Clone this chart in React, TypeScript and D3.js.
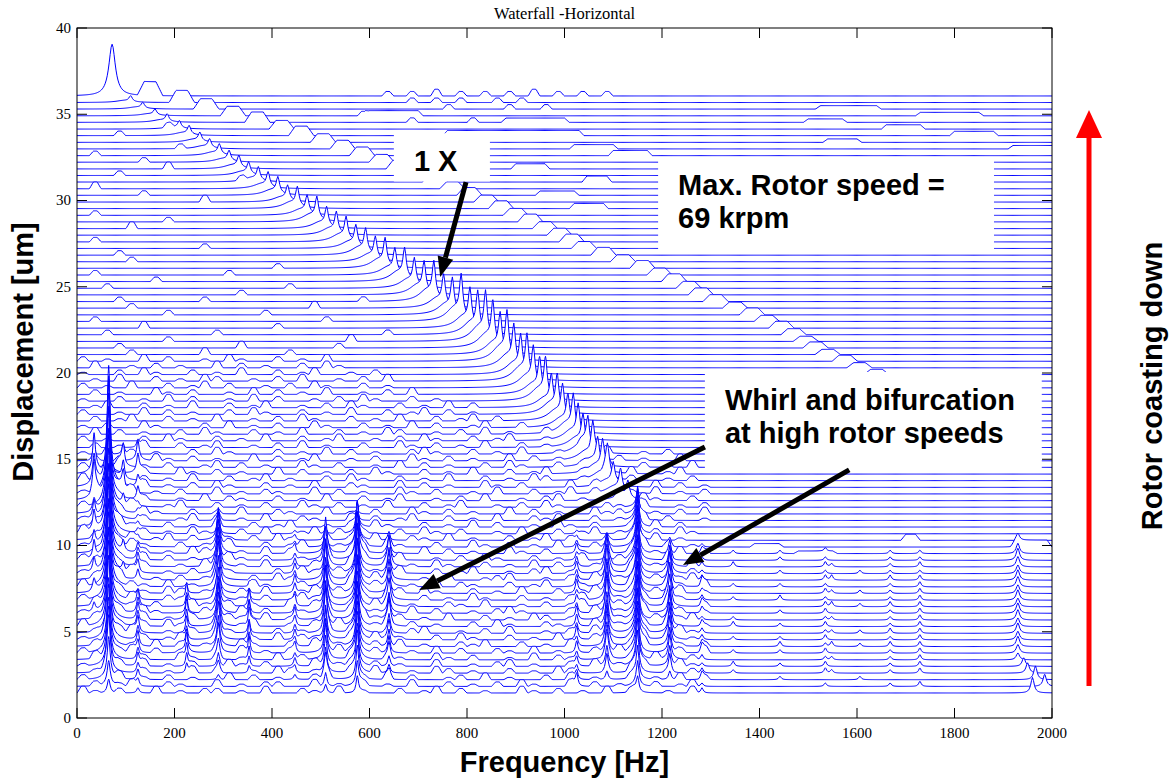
import * as d3 from "d3";

const WIDTH = 1173;
const HEIGHT = 779;

// baseline of each spectrum, front (max speed) to back (coasted down)
const traceOffsets = [
  1.45, 1.83, 2.22, 2.6, 2.99, 3.37, 3.76, 4.14, 4.53, 4.91,
  5.3, 5.68, 6.07, 6.45, 6.83, 7.22, 7.6, 7.99, 8.37, 8.76,
  9.14, 9.53, 9.91, 10.3, 10.68, 11.07, 11.45, 11.83, 12.22, 12.6,
  12.99, 13.37, 13.76, 14.14, 14.53, 14.91, 15.3, 15.68, 16.07, 16.45,
  16.83, 17.22, 17.6, 17.99, 18.37, 18.76, 19.14, 19.53, 19.91, 20.3,
  20.68, 21.07, 21.45, 21.83, 22.22, 22.6, 22.99, 23.37, 23.76, 24.14,
  24.53, 24.91, 25.3, 25.68, 26.07, 26.45, 26.83, 27.22, 27.6, 27.99,
  28.37, 28.76, 29.14, 29.53, 29.91, 30.3, 30.68, 31.07, 31.45, 31.83,
  32.22, 32.6, 32.99, 33.37, 33.76, 34.14, 34.53, 34.91, 35.3, 35.68,
  36.06,
];

// 1X (synchronous) frequency of each trace
const speedHz = [
  1150, 1150, 1150, 1150, 1150, 1150, 1150, 1150, 1150, 1150,
  1150, 1150, 1150, 1150, 1150, 1150, 1150, 1150, 1150, 1150,
  1150, 1150, 1150, 1150, 1150, 1150, 1150, 1150, 1150,
  1130, 1115, 1100, 1088, 1078, 1068, 1058, 1048, 1038, 1028,
  1018, 1007, 996, 985, 973, 961, 949, 936, 923, 910,
  896, 882, 868, 853, 838, 822, 806, 788, 770, 752,
  732, 712, 692, 672, 652, 632, 612, 592, 572, 552,
  532, 512, 492, 472, 452, 432, 412, 392, 372, 352,
  332, 312, 292, 272, 252, 230, 210, 185, 160, 135,
  110, 72,
];

const amp1x = [
  1.0, 1.5, 2.0, 2.5, 2.8, 3.0, 3.0, 3.2, 3.0, 3.2,
  3.0, 3.2, 3.0, 3.2, 3.0, 3.2, 3.0, 3.2, 3.0, 3.0,
  3.0, 2.8, 2.8, 2.6, 2.5, 2.2, 2.0, 1.5, 1.0,
  1.2, 1.5, 1.5, 1.8, 2.0, 1.8, 2.0, 2.2, 2.0, 2.2, 2.4, 2.0,
  2.2, 2.4, 2.0, 2.6, 2.2, 2.5, 2.8, 2.4, 2.6, 3.0,
  2.5, 2.8, 3.0, 2.6, 2.4, 2.8, 2.2, 2.0, 2.4, 2.0,
  1.8, 2.0, 1.6, 1.8, 1.5, 1.6, 1.4, 1.5, 1.4, 1.3, 1.5, 1.2, 1.3,
  1.0, 1.1, 1.0, 0.9, 0.8, 0.8, 0.7, 0.7, 0.6, 0.6, 0.6, 0.5, 0.5, 0.4, 0.4, 0.4,
  0,
];

// broad humps of the second ridge, traces 48..90
const HUMP_START = 48;
const hump2xHz = [
  1640, 1605, 1575, 1540, 1515, 1495, 1470, 1445, 1415, 1385,
  1350, 1310, 1280, 1255, 1225, 1195, 1160, 1120, 1080, 1040,
  1015, 990, 960, 930, 900, 870, 840, 805, 770, 735,
  700, 660, 625, 585, 545, 505, 460, 420, 370, 320,
  265, 215, 150,
];
const amp2x = [
  0.3, 0.3, 0.35, 0.3, 0.35, 0.3, 0.35, 0.4, 0.35, 0.4,
  0.35, 0.4, 0.4, 0.4, 0.45, 0.4, 0.45, 0.4, 0.45, 0.4,
  0.45, 0.4, 0.4, 0.45, 0.4, 0.45, 0.4, 0.45, 0.4, 0.45,
  0.45, 0.5, 0.45, 0.5, 0.5, 0.5, 0.55, 0.5, 0.6, 0.55,
  0.6, 0.7, 0.8,
];

// fixed-frequency lines (subsynchronous whirl and friends), amplitude per trace from the front
const amps35 = [0, 0, 0, 0, 0, 0, 0, 0, 0, 0, 0, 0, 0.5, 0, 0, 0.6, 0, 0, 0.8, 0, 1.0, 0, 0.8, 0, 1.2, 0, 1.0, 0.6, 0, 1.8, 0, 1.5, 0, 2.2, 0, 0.8];
const amps65 = [0.8, 1.5, 2.5, 3.0, 3.5, 3.5, 4.0, 4.0, 4.5, 4.5, 5.0, 5.0, 5.0, 5.5, 5.5, 5.5, 6.0, 6.0, 6.0, 6.0, 6.5, 6.5, 6.5, 6.5, 7.0, 7.0, 7.0, 7.0, 7.0, 7.0, 6.8, 6.9, 4.0, 2.0, 1.0];
const amps95 = [0, 0, 0, 0, 0, 0, 0, 0, 0, 0, 0, 0, 0, 0, 0, 0, 0, 0, 0.5, 0, 0, 0.6, 0, 0, 0, 0, 0, 0, 0.6, 0, 1.1, 0, 1.0, 0, 1.2, 0, 0.6];
const amps125 = [0.3, 0.5, 0.6, 0.6, 0.8, 0.7, 0.8, 0.9, 0.8, 1.0, 0.9, 1.0, 0.9, 1.0, 0.6, 0.2, 0, 0.6, 0.8, 0.8, 0.7, 0.6, 0.3, 0.3, 0.3, 0.3, 0.3, 0.3, 0.3, 0.8, 0, 0.7, 0, 1.2, 0, 1.2, 0, 0.5];
const amps225 = [0, 0, 0, 0.6, 0.8, 1.0, 1.2, 1.0, 0.8, 1.0, 1.0, 1.2, 1.0, 0.8, 1.0, 0.5, 0.2];
const amps290 = [0, 0, 0.3, 0.5, 0.8, 1.0, 1.5, 1.8, 2.0, 2.0, 2.2, 2.2, 2.0, 2.3, 2.2, 2.0, 2.4, 2.2, 2.3, 2.5, 2.2, 2.4, 2.2, 1.9, 1.0, 0.5, 0.3, 0.2];
const amps353 = [0, 0, 0, 0.4, 0.6, 0.8, 1.0, 0.8, 1.0, 0.8, 1.0, 1.1, 0.8, 1.0, 0.6, 0.3, 0.2];
const amps447 = [0, 0, 0.3, 0.4, 0.5, 0.4, 0.6, 0.5, 0.6, 0.5, 0.6, 0.7, 0.5, 0.6, 0.5, 0.6, 0.7, 0.5, 0.6, 0.5, 0.4, 0.5, 0.3, 0.3, 0.2];
const amps510 = [0.5, 0.8, 1.2, 1.5, 1.8, 2.0, 2.0, 2.2, 2.0, 2.2, 2.4, 2.0, 2.2, 2.4, 2.2, 2.0, 2.4, 2.2, 2.0, 2.2, 2.1, 1.6, 1.0, 0.5, 0.3];
const amps575 = [1.0, 1.5, 2.0, 2.5, 2.5, 2.8, 3.0, 3.0, 3.2, 3.0, 3.2, 3.4, 3.2, 3.0, 3.4, 3.2, 3.5, 3.3, 3.5, 3.2, 3.4, 3.0, 2.6, 2.3, 1.8, 1.2, 0.6, 0.3];
const amps640 = [0, 0, 0.3, 0.5, 0.6, 0.8, 1.0, 1.0, 1.2, 1.0, 1.2, 1.5, 1.2, 1.4, 1.5, 1.2, 1.6, 1.4, 1.5, 1.6, 1.2, 0.9, 0.5, 0.3];
const amps1025 = [0, 0.8, 0.6, 0.5, 0.6, 0.5, 0.7, 0.6, 0.8, 0.6, 0.7, 0.8, 0.6, 0.7, 0.6, 0.8, 0.7, 0.6, 0.7, 0.6, 0.5, 0.6, 0.4, 0.3, 0.2];
const amps1087 = [0, 0, 0.5, 1.0, 1.2, 1.5, 1.8, 1.8, 2.0, 1.8, 2.0, 2.2, 1.8, 2.0, 2.2, 2.0, 2.2, 2.0, 1.9, 1.5, 1.0, 0.8, 0.5, 0.3];
const amps1216 = [0, 0, 0.5, 1.0, 1.2, 1.5, 1.5, 1.8, 1.6, 1.8, 1.5, 1.8, 1.6, 1.5, 1.8, 1.6, 1.8, 1.6, 1.5, 1.2, 0.8, 0.5, 0.3];
const amps1282 = [0.3, 0.2, 0.3, 0.3, 0.2, 0.3, 0.3, 0.2, 0.3, 0.3, 0.3, 0.2, 0.3, 0.3, 0.3, 0.2, 0.3, 0.3, 0.2, 0.3, 0.2, 0.2, 0.2];
const amps1930 = [0, 0, 0, 0, 0, 0.4, 0.5, 0.6, 0.5, 0.6, 0.5, 0.6, 0.6, 0.5, 0.6, 0.5, 0.6, 0.6, 0.5, 0.6, 0.7, 0.6, 0.4];

const fixedLines = [
  { hz: 35, amps: amps35, w: 3 },
  { hz: 65, amps: amps65, w: 3.5 },
  { hz: 95, amps: amps95, w: 3 },
  { hz: 125, amps: amps125, w: 3 },
  { hz: 225, amps: amps225, w: 2.5 },
  { hz: 290, amps: amps290, w: 3 },
  { hz: 353, amps: amps353, w: 2.5 },
  { hz: 447, amps: amps447, w: 3 },
  { hz: 510, amps: amps510, w: 3 },
  { hz: 575, amps: amps575, w: 3 },
  { hz: 640, amps: amps640, w: 3 },
  { hz: 1025, amps: amps1025, w: 3 },
  { hz: 1087, amps: amps1087, w: 3 },
  { hz: 1216, amps: amps1216, w: 3 },
  { hz: 1282, amps: amps1282, w: 3 },
  { hz: 1930, amps: amps1930, w: 4 },
];

// small lines on the right, tenths of um per trace
const smallLineHz = [1346, 1442, 1535, 1548, 1606, 1668, 1729];
const smallLineAmps = [
  "0002302020320020200302",
  "0020202320202030202022",
  "0203323232323323232322",
  "0002020302020302030200",
  "0020000202000202002000",
  "0202222323222322232222",
  "0303333333333333332322",
];

// [trace, Hz, amplitude, half width]
const extraPeaks = [
  [90, 72, 3.0, 8],
  [0, 1960, 0.9, 4],
  [1, 1985, 0.7, 4],
  [2, 1966, 0.8, 4],
  [3, 1950, 0.6, 4],
  [4, 1942, 0.5, 4],
];

// flat-topped humps: [trace, from Hz, to Hz, height]
const plateaus = [
  [88, 1525, 1640, 0.2], [87, 1730, 1850, 0.2], [86, 1500, 1570, 0.2],
  [85, 1660, 1730, 0.25], [84, 1800, 1880, 0.25], [83, 1540, 1600, 0.2],
  [82, 1920, 2000, 0.2], [84, 760, 1030, 0.3], [82, 1020, 1100, 0.25],
  [81, 1100, 1170, 0.3], [77, 1046, 1087, 0.35], [80, 700, 780, 0.25],
  [79, 900, 960, 0.3], [86, 880, 1000, 0.25], [87, 600, 700, 0.3],
  [75, 950, 1020, 0.25], [73, 1020, 1080, 0.3],
  [22, 1390, 1440, 0.2], [21, 1480, 1550, 0.15], [23, 1700, 1720, 0.35],
  [22, 1925, 1990, 0.4],
];

// small noise bumps, one char per 25 Hz bin, tenths of um
const bumpRows = [
  "3102003010220103002103010020130201003102010302001030",
  "0201300210030102200301020103002010203100302010020130",
  "2003010201003020100230010302001203010020301002010302",
  "0130020103020010320100203001032010020103200103001020",
  "1002030102003102000301202010030010230100203010200310",
  "0310020031020100302010300210031020010302100201030020",
  "2001302010020301020003102001030200210301002031000203",
  "0200103020100310020301002030100213002010300201300102",
  "1030020130020010302100203010020310020103002001302010",
  "0102300102031000201030200102300102030010203100200310",
  "3001020310020130010203001302010020310021003010203001",
  "0210030102002103010020031020103002010320100310020130",
  "1002031000210302001030201003020010231000203010300201",
  "0300102003102010030200103201002103001020130020103002",
  "2010300210030102003120010300201031002010230010203100",
  "0102010320100203001302010020310020103002013001020301",
  "3000210301020031002010302001030210020130010203002103",
  "0203001020130020310010203200103001230010203010020130",
  "1020300102031000203102001030020130010230100203001020",
  "0301020010320103000210300201031002010302001302010030",
  "2001030201003102001030020130010203100201030021003010",
  "0130020103200103020010230100302010031020010302010302",
  "1002310020103002013001020310020031020103002100302010",
  "0200301302001020310020103002103010020130200102030100",
  "3010020103100203001302010020310200103002013010020310",
  "0203100201030020130010203100201030200103102001030200",
  "1030020013020103002100302013002010300213002010302001",
  "0102031002010300210030102003102010030201003120010203",
  "2010300130020102003102010300201300102031000210300102",
  "0301020010302100201030020130010203001023010020310020",
  "1002301020030102100302010031020010300201302001030102",
  "0210030102031002010300210030201003102000302010030201",
  "3001020103002013010020310020103002010320010302001020",
  "0130020031020100302010203100201030020130010203001300",
  "2003010200130201003102001030201002031002010300201030",
  "0102003102010030201300102003102010030201003020100300",
  "1030201002031000201030201002310020103001020300102000",
  "0201030020130010203010020031020103002010",
  "2010020310020103002013001020310020130010",
  "0302010020310020103002010320010203010020",
  "1020031000203010200310020103020013002",
  "0201300201030010203100201030020130200",
  "2001030201002031002010300201302010",
  "0130020103002013001020310020103020",
  "1002010302001030200102031002010",
  "0201003102001030201030010203",
  "2010300201302001020310020100",
  "0103002010320010203001020300",
  "1002031002010300201300102",
  "0300102010030201002031",
  "2010030200103100201030",
  "0000200000300000020000000",
  "0002000000000300000002000",
  "0000000200000000000000300",
  "0020000000020000000000000200",
  "0000030000000000200000000",
  "0200000000000000000020000",
  "0000000200000002000000000",
  "0000200000000000000300000",
  "0002000000200000000000020",
  "0000000000000200000000000",
  "0020000000000000020000000",
  "0000002000000000000000000",
  "0200000000002000000000000",
  "0000000000000000200000000",
  "0000200000000000000000000",
  "0002000000000000000000000",
  "0000000000200000000000000",
  "0200000000000000000000000",
  "",
  "0000300000000000000000000",
  "0000000200000000000000000",
  "0200000000000000000000000",
  "",
  "0000000000300000000000000",
  "0000020000000000000000000",
  "0300000000000000000000000",
  "0000000000000200000000000",
  "0002000000000000000000000",
  "0000000300000000000000000",
  "0000020000000000000000000",
  "0200000000000000000000000",
  "0000000020000000000000000",
  "",
  "0002000000000000000000000",
  "0000000200000000000000000",
  "000000000000000000000000000200002000",
  "0000000000000000000000020000000000000000",
  "00000000000000000000000000000020000200200000",
  "0000000000000000000000000002020200202000000000",
  "00000000000000000000000002020302020203020202",
];

const xTicks = [0, 200, 400, 600, 800, 1000, 1200, 1400, 1600, 1800, 2000];
const yTicks = [0, 5, 10, 15, 20, 25, 30, 35, 40];

const callouts = [
  { x0: 650, x1: 847, y0: 31.1, y1: 33.9, lines: ["1 X"] },
  { x0: 1192, x1: 1881, y0: 27.0, y1: 32.5, lines: ["Max. Rotor speed =", "69 krpm"] },
  { x0: 1288, x1: 1979, y0: 14.38, y1: 20.06, lines: ["Whirl and bifurcation", "at high rotor speeds"] },
];

// [from Hz, from um, to Hz, to um]
const pointers = [
  [798, 31.07, 745, 25.57],
  [1288, 15.71, 702, 7.42],
  [1584, 14.38, 1243, 8.87],
];

const grid = d3.range(0, 2001, 2);

function buildTrace(i: number): [number, number][] {
  const b = traceOffsets[i];
  const peaks: number[][] = [];
  const flats: number[][] = [];
  const a1 = amp1x[i];
  if (a1 > 0) {
    const coast = speedHz[i] !== 1150;
    // resonance skirt, leaning to the low-frequency side; apex kept at the read amplitude
    const shift = coast ? 14 : 4;
    const sw = coast ? 20 : 10;
    const sa = a1 * (coast ? 0.28 : 0.15);
    const atApex = sa / (1 + (shift / sw) ** 2);
    peaks.push([speedHz[i], a1 - atApex, coast ? 4 : 3]);
    peaks.push([speedHz[i] - shift, sa, sw]);
  }
  const j = i - HUMP_START;
  if (j >= 0) flats.push([hump2xHz[j] - 12, hump2xHz[j] + 12, amp2x[j], 14]);
  fixedLines.forEach((l) => {
    const a = l.amps[i];
    if (!a) return;
    if (a > 1) {
      peaks.push([l.hz, a * 0.88, l.w]);
      peaks.push([l.hz, a * 0.12, l.w * 4]);
    } else {
      peaks.push([l.hz, a, l.w]);
    }
  });
  smallLineHz.forEach((hz, k) => {
    const c = smallLineAmps[k][i];
    if (c && c !== "0") peaks.push([hz, +c * 0.1, 3]);
  });
  extraPeaks.forEach((p) => {
    if (p[0] === i) peaks.push([p[1], p[2], p[3]]);
  });
  plateaus.forEach((p) => {
    if (p[0] === i) flats.push([p[1], p[2], p[3], 10]);
  });
  const row = bumpRows[i] || "";
  for (let k = 0; k < row.length; k++) {
    const v = +row[k];
    if (v > 0) {
      const c = 25 * k + 12.5;
      flats.push([c - 4, c + 4, v * 0.13, 8]);
    }
  }
  const xs = Array.from(new Set([...grid, ...peaks.map((p) => p[0])])).sort((a, c) => a - c);
  return xs.map((f) => {
    let v = b;
    for (const [c, a, w] of peaks) {
      const u = (f - c) / w;
      v += a / (1 + u * u);
    }
    for (const [f1, f2, h, r] of flats) {
      if (f >= f1 && f <= f2) v += h;
      else if (f > f1 - r && f < f1) v += (h * (f - (f1 - r))) / r;
      else if (f > f2 && f < f2 + r) v += (h * (f2 + r - f)) / r;
    }
    return [f, v];
  });
}

function head(x1: number, y1: number, x2: number, y2: number, len: number, half: number) {
  const L = Math.hypot(x2 - x1, y2 - y1);
  const ux = (x2 - x1) / L;
  const uy = (y2 - y1) / L;
  const bx = x2 - ux * len;
  const by = y2 - uy * len;
  return {
    bx,
    by,
    pts: `${x2},${y2} ${bx - uy * half},${by + ux * half} ${bx + uy * half},${by - ux * half}`,
  };
}

export default function App() {
  const x = d3.scaleLinear().domain([0, 2000]).range([77, 1052]);
  const y = d3.scaleLinear().domain([0, 40]).range([718, 28]);
  const [left, right] = x.range();
  const [bottom, top] = y.range();

  const line = d3.line<[number, number]>().x((d) => x(d[0])).y((d) => y(d[1]));
  const traces = traceOffsets.map((b, i) => {
    const pts = buildTrace(i);
    const area = d3
      .area<[number, number]>()
      .x((d) => x(d[0]))
      .y0(y(b))
      .y1((d) => y(d[1]));
    return { i, line: line(pts), area: area(pts) };
  });

  const bold = "'Liberation Sans', Arial, Helvetica, sans-serif";
  const serif = "'Liberation Serif', 'Times New Roman', serif";

  return (
    <svg
      width={WIDTH}
      height={HEIGHT}
      style={{ position: "absolute", left: 0, top: 0, background: "#fff" }}
    >
      <defs>
        <clipPath id="plot">
          <rect x={left} y={top} width={right - left} height={bottom - top} />
        </clipPath>
      </defs>

      <g clipPath="url(#plot)">
        {traces
          .slice()
          .reverse()
          .map((t) => (
            <g key={t.i}>
              <path d={t.area || ""} fill="#fff" stroke="none" />
              <path d={t.line || ""} fill="none" stroke="#0000ff" strokeWidth={1} />
            </g>
          ))}
      </g>

      {callouts.map((c, k) => (
        <g key={k}>
          <rect x={x(c.x0)} y={y(c.y1)} width={x(c.x1) - x(c.x0)} height={y(c.y0) - y(c.y1)} fill="#fff" />
          {c.lines.map((s, n) => (
            <text
              key={n}
              x={x(c.x0) + 20}
              y={y(c.y1) + 38 + n * 33}
              fontFamily={bold}
              fontWeight="bold"
              fontSize={29}
              fill="#000"
            >
              {s}
            </text>
          ))}
        </g>
      ))}

      {pointers.map((p, k) => {
        const x1 = x(p[0]);
        const y1 = y(p[1]);
        const x2 = x(p[2]);
        const y2 = y(p[3]);
        const h = head(x1, y1, x2, y2, 20, 8);
        return (
          <g key={k}>
            <line x1={x1} y1={y1} x2={h.bx} y2={h.by} stroke="#000" strokeWidth={5} />
            <polygon points={h.pts} fill="#000" />
          </g>
        );
      })}

      {/* axes frame */}
      <rect x={left} y={top} width={right - left} height={bottom - top} fill="none" stroke="#000" strokeWidth={1} />
      {xTicks.map((t) => (
        <g key={"x" + t}>
          <line x1={x(t)} x2={x(t)} y1={bottom} y2={bottom - 10} stroke="#000" />
          <line x1={x(t)} x2={x(t)} y1={top} y2={top + 10} stroke="#000" />
          <text x={x(t)} y={bottom + 20} textAnchor="middle" fontFamily={serif} fontSize={15} fill="#000">
            {t}
          </text>
        </g>
      ))}
      {yTicks.map((t) => (
        <g key={"y" + t}>
          <line x1={left} x2={left + 10} y1={y(t)} y2={y(t)} stroke="#000" />
          <line x1={right} x2={right - 10} y1={y(t)} y2={y(t)} stroke="#000" />
          <text x={left - 6} y={y(t)} dy="0.33em" textAnchor="end" fontFamily={serif} fontSize={15} fill="#000">
            {t}
          </text>
        </g>
      ))}

      <text x={(left + right) / 2} y={19} textAnchor="middle" fontFamily={serif} fontSize={16.5} fill="#000">
        Waterfall -Horizontal
      </text>
      <text x={(left + right) / 2} y={772} textAnchor="middle" fontFamily={bold} fontWeight="bold" fontSize={29} fill="#000">
        Frequency [Hz]
      </text>
      <text
        transform={`translate(33,${(top + bottom) / 2 - 21}) rotate(-90)`}
        textAnchor="middle"
        fontFamily={bold}
        fontWeight="bold"
        fontSize={29}
        fill="#000"
      >
        Displacement [um]
      </text>

      {/* coast-down direction */}
      <line x1={1089} y1={686} x2={1089} y2={136} stroke="#ff0000" strokeWidth={5} />
      <polygon points="1089,110 1076,138 1102,138" fill="#ff0000" />
      <text
        transform="translate(1162,386) rotate(-90)"
        textAnchor="middle"
        fontFamily={bold}
        fontWeight="bold"
        fontSize={29}
        fill="#000"
      >
        Rotor coasting down
      </text>
    </svg>
  );
}
